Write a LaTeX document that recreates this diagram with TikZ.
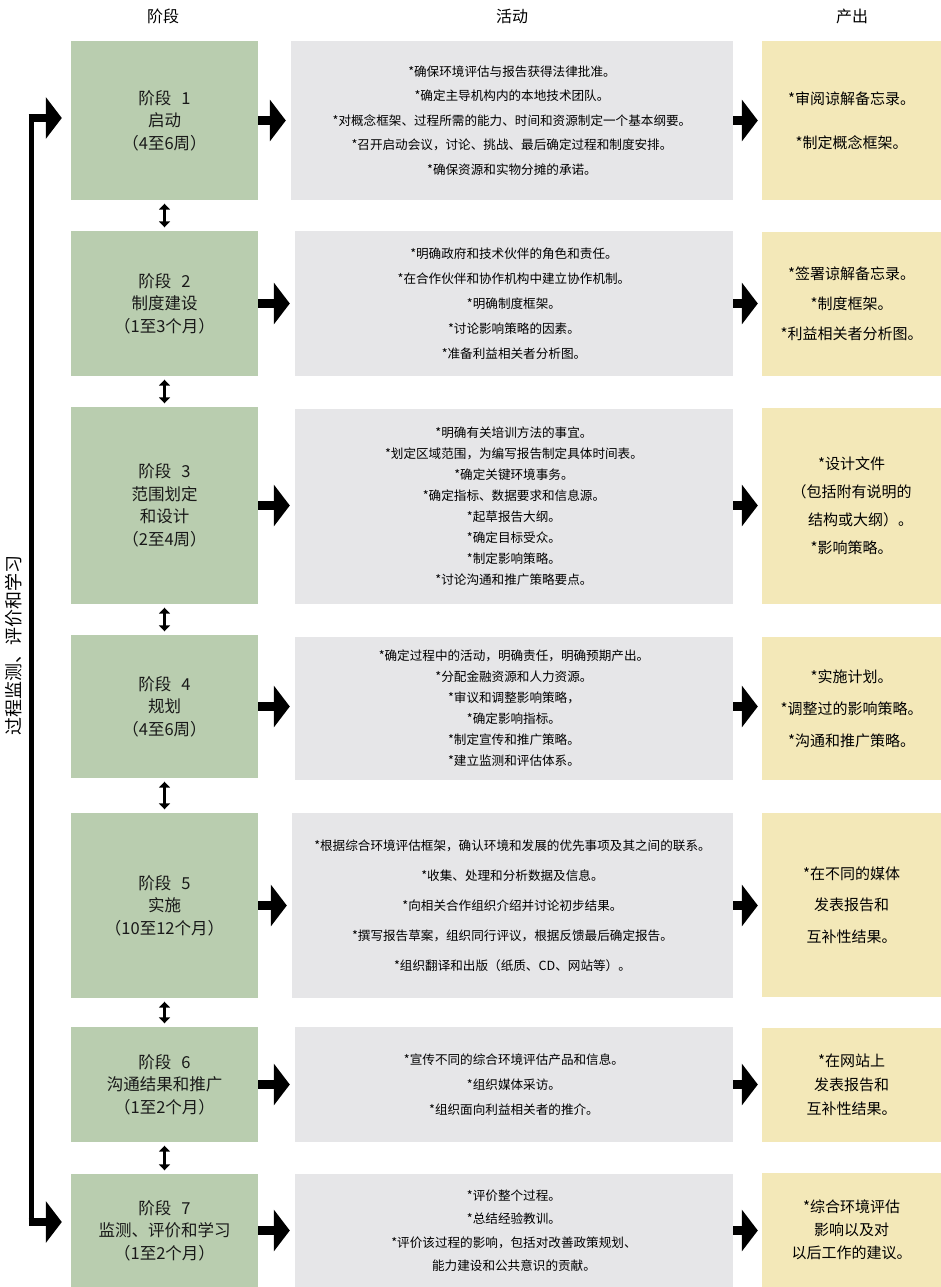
\documentclass[tikz,border=0pt]{standalone}
\usepackage{fontspec}
\newfontfamily\cjk{Noto Sans CJK SC}
\usetikzlibrary{arrows.meta,calc}
\definecolor{stagegreen}{RGB}{185,205,175}
\definecolor{actgray}{RGB}{230,230,232}
\definecolor{outyellow}{RGB}{243,232,184}
\begin{document}
\begin{tikzpicture}[x=1pt,y=-1pt,
  gbox/.style={fill=stagegreen, draw=none, inner sep=0pt, align=center, text=black!90,
    font=\cjk\fontsize{16.5}{22.5}\selectfont},
  abox/.style={fill=actgray, draw=none, inner sep=0pt, align=center,
    font=\cjk\fontsize{12.6}{#1}\selectfont},
  obox/.style={fill=outyellow, draw=none, inner sep=0pt, align=center,
    font=\cjk\fontsize{15}{#1}\selectfont},
  hdr/.style={font=\cjk\fontsize{16}{18}\selectfont, inner sep=0pt},
  fat/.style={line width=8.5pt, -{Triangle[length=16pt,width=41pt]}},
  dbl/.style={line width=2.5pt, {Triangle[length=6pt,width=11pt]}-{Triangle[length=6pt,width=11pt]}, shorten <=3.5pt, shorten >=3.5pt}
]
\useasboundingbox (0,0) rectangle (941,1287);

% headers
\node[hdr] (h1) at (163,16) {阶段};
\node[hdr] (h2) at (512,16) {活动};
\node[hdr] (h3) at (852,16) {产出};

% stage boxes
\node[gbox, minimum width=187pt, minimum height=159pt] (g1) at (164.5,120.5) {阶段\hspace{0.6em}1\\启动\\（4至6周）};
\node[gbox, minimum width=187pt, minimum height=145pt] (g2) at (164.5,303.5) {阶段\hspace{0.6em}2\\制度建设\\（1至3个月）};
\node[gbox, minimum width=187pt, minimum height=197pt] (g3) at (164.5,505.5) {阶段\hspace{0.6em}3\\范围划定\\和设计\\（2至4周）};
\node[gbox, minimum width=187pt, minimum height=143pt] (g4) at (164.5,706.5) {阶段\hspace{0.6em}4\\规划\\（4至6周）};
\node[gbox, minimum width=187pt, minimum height=185pt] (g5) at (164.5,905.5) {阶段\hspace{0.6em}5\\实施\\（10至12个月）};
\node[gbox, minimum width=187pt, minimum height=115pt] (g6) at (164.5,1084.5) {阶段\hspace{0.6em}6\\沟通结果和推广\\（1至2个月）};
\node[gbox, minimum width=187pt, minimum height=113pt] (g7) at (164.5,1230.5) {阶段\hspace{0.6em}7\\监测、评价和学习\\（1至2个月）};

% activity boxes
\node[abox=24.5, minimum width=442pt, minimum height=159pt] (a1) at (512,120.5)
 {{*}确保环境评估与报告获得法律批准。\\{*}确定主导机构内的本地技术团队。\\{*}对概念框架、过程所需的能力、时间和资源制定一个基本纲要。\\{*}召开启动会议，讨论、挑战、最后确定过程和制度安排。\\{*}确保资源和实物分摊的承诺。};
\node[abox=25, minimum width=438pt, minimum height=145pt] (a2) at (514,303.5)
 {{*}明确政府和技术伙伴的角色和责任。\\{*}在合作伙伴和协作机构中建立协作机制。\\{*}明确制度框架。\\{*}讨论影响策略的因素。\\{*}准备利益相关者分析图。};
\node[abox=21, minimum width=438pt, minimum height=195pt] (a3) at (514,506.5)
 {{*}明确有关培训方法的事宜。\\{*}划定区域范围，为编写报告制定具体时间表。\\{*}确定关键环境事务。\\{*}确定指标、数据要求和信息源。\\{*}起草报告大纲。\\{*}确定目标受众。\\{*}制定影响策略。\\{*}讨论沟通和推广策略要点。};
\node[abox=21, minimum width=438pt, minimum height=143pt] (a4) at (514,708.5)
 {{*}确定过程中的活动，明确责任，明确预期产出。\\{*}分配金融资源和人力资源。\\{*}审议和调整影响策略，\\{*}确定影响指标。\\{*}制定宣传和推广策略。\\{*}建立监测和评估体系。};
\node[abox=30, minimum width=441pt, minimum height=185pt] (a5) at (512.5,905.5)
 {{*}根据综合环境评估框架，确认环境和发展的优先事项及其之间的联系。\\{*}收集、处理和分析数据及信息。\\{*}向相关合作组织介绍并讨论初步结果。\\{*}撰写报告草案，组织同行评议，根据反馈最后确定报告。\\{*}组织翻译和出版（纸质、CD、网站等）。};
\node[abox=25, minimum width=438pt, minimum height=115pt] (a6) at (514,1084.5)
 {{*}宣传不同的综合环境评估产品和信息。\\{*}组织媒体采访。\\{*}组织面向利益相关者的推介。};
\node[abox=23.5, minimum width=438pt, minimum height=113pt] (a7) at (514,1230.5)
 {{*}评价整个过程。\\{*}总结经验教训。\\{*}评价该过程的影响，包括对改善政策规划、\\能力建设和公共意识的贡献。};

% output boxes
\node[obox=44, minimum width=179pt, minimum height=159pt] (o1) at (851.5,120.5)
 {{*}审阅谅解备忘录。\\{*}制定概念框架。};
\node[obox=30, minimum width=179pt, minimum height=144pt] (o2) at (851.5,304)
 {{*}签署谅解备忘录。\\{*}制度框架。\\{*}利益相关者分析图。};
\node[obox=28, minimum width=179pt, minimum height=196pt] (o3) at (851.5,506)
 {{*}设计文件\\（包括附有说明的\\\hspace{1.2em}结构或大纲）。\\{*}影响策略。\hspace{0.8em}};
\node[obox=32, minimum width=179pt, minimum height=143pt] (o4) at (851.5,708.5)
 {{*}实施计划。\\{*}调整过的影响策略。\\{*}沟通和推广策略。};
\node[obox=31.5, minimum width=179pt, minimum height=184pt] (o5) at (851.5,905)
 {{*}在不同的媒体\\发表报告和\\互补性结果。};
\node[obox=24, minimum width=179pt, minimum height=114pt] (o6) at (851.5,1085)
 {{*}在网站上\\发表报告和\\互补性结果。};
\node[obox=23, minimum width=179pt, minimum height=114pt] (o7) at (851.5,1230)
 {{*}综合环境评估\\影响以及对\\以后工作的建议。};

% stage -> activity arrows
\foreach \i in {1,...,7}{
  \draw[fat, shorten >=5pt] (g\i.east) -- (g\i.east -| a\i.west);
  \draw[fat, shorten >=4pt] (a\i.east |- g\i.east) -- (g\i.east -| o\i.west);
}

% double arrows between stages
\foreach \i/\j in {1/2,2/3,3/4,4/5,5/6,6/7}{
  \draw[dbl] (g\i.south) -- (g\j.north);
}

% feedback loop
\coordinate (lt) at (31,118);
\coordinate (lb) at (31,1222);
\draw[line width=5pt, line cap=rect] (lt) -- (lb);
\draw[fat, shorten >=9pt] ([xshift=-2.5pt]lt) -- (lt -| g1.west);
\draw[fat, shorten >=9pt] ([xshift=-2.5pt]lb) -- (lb -| g7.west);
\node[rotate=90, font=\cjk\fontsize{18}{20}\selectfont, inner sep=0pt] (loopl) at (14,645) {过程监测、评价和学习};
\end{tikzpicture}
\end{document}
